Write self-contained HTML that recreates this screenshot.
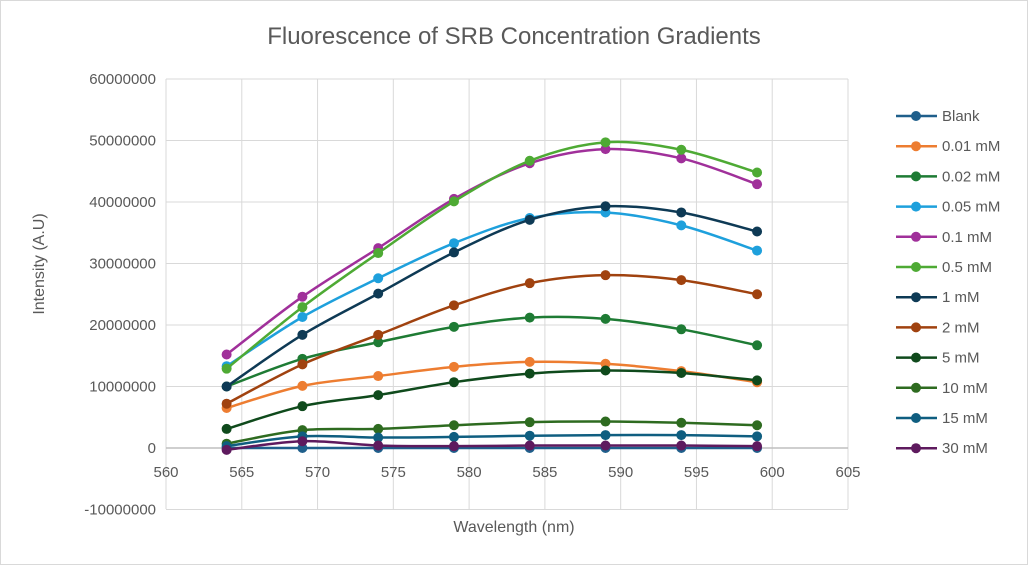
<!DOCTYPE html>
<html><head><meta charset="utf-8"><style>
body{margin:0;background:#fff;width:1028px;height:565px;overflow:hidden;font-family:"Liberation Sans",sans-serif}
</style></head><body>
<svg id="chart" width="1028" height="565" xmlns="http://www.w3.org/2000/svg">
<rect x="0.5" y="0.5" width="1027" height="564" fill="#fff" stroke="#d9d9d9"/>
<text x="514" y="44" text-anchor="middle" font-size="24" fill="#595959">Fluorescence of SRB Concentration Gradients</text>
<g id="grid"></g><g id="series"></g><g id="legend"></g>
<text x="514" y="532" text-anchor="middle" font-size="16" fill="#595959">Wavelength (nm)</text>
<text transform="translate(44,264) rotate(-90)" text-anchor="middle" font-size="16" fill="#595959">Intensity (A.U)</text>
</svg>
<script>
const xTicks=[560,565,570,575,580,585,590,595,600,605];
const yTicks=[-10000000,0,10000000,20000000,30000000,40000000,50000000,60000000];
const wavelengths=[564,569,574,579,584,589,594,599];
const seriesNames=["Blank","0.01 mM","0.02 mM","0.05 mM","0.1 mM","0.5 mM","1 mM","2 mM","5 mM","10 mM","15 mM","30 mM"];
const seriesColors=["#1f5f8b","#ed7d31","#1e7b34","#1ea0dc","#a0309a","#4eaa34","#0e3a55","#a0420f","#0f4a1c","#2e6b20","#0f5e80","#5e1a5e"];
const sBlank=[0,0,0,0,0,0,0,0];
const s001=[6.5,10.1,11.7,13.2,14.0,13.7,12.5,10.7];
const s002=[10.0,14.5,17.2,19.7,21.2,21.0,19.3,16.7];
const s005=[13.3,21.3,27.6,33.3,37.4,38.3,36.2,32.1];
const s01=[15.2,24.6,32.5,40.5,46.3,48.6,47.1,42.9];
const s05=[12.9,22.9,31.7,40.1,46.7,49.7,48.5,44.8];
const s1=[10.0,18.4,25.1,31.8,37.1,39.3,38.3,35.2];
const s2=[7.2,13.6,18.4,23.2,26.8,28.1,27.3,25.0];
const s5=[3.1,6.8,8.6,10.7,12.1,12.6,12.2,11.0];
const s10=[0.7,2.9,3.1,3.7,4.2,4.3,4.1,3.7];
const s15=[0.3,1.9,1.7,1.8,2.0,2.1,2.1,1.9];
const s30=[-0.3,1.1,0.4,0.3,0.4,0.4,0.4,0.3];
const allSeries=[sBlank,s001,s002,s005,s01,s05,s1,s2,s5,s10,s15,s30];
const NS="http://www.w3.org/2000/svg";
const X=v=>166+(v-560)*(848-166)/45;
const Y=v=>448-v*(448-79)/60000000;
function mk(t,a,p){const e=document.createElementNS(NS,t);for(const k in a)e.setAttribute(k,a[k]);p.appendChild(e);return e;}
const grid=document.getElementById('grid');
xTicks.forEach(t=>{const l=mk('line',{x1:X(t),x2:X(t),y1:79,y2:509,stroke:'#d9d9d9'},grid);


const tx=mk('text',{x:X(t),y:477,'text-anchor':'middle','font-size':15,fill:'#595959'},grid);tx.textContent=t;

});
yTicks.forEach(t=>{const l=mk('line',{x1:166,x2:848,y1:Y(t),y2:Y(t),stroke:t===0?'#bfbfbf':'#d9d9d9','stroke-width':t===0?1.5:1},grid);


const tx=mk('text',{x:156,y:Y(t)+5,'text-anchor':'end','font-size':15,fill:'#595959'},grid);tx.textContent=t;

});
function smooth(p){let d=`M${p[0][0]},${p[0][1]}`;for(let i=0;i<p.length-1;i++){const p0=p[i-1]||p[i],p1=p[i],p2=p[i+1],p3=p[i+2]||p2;const t=0.5/3;
d+=`C${p1[0]+(p2[0]-p0[0])*t},${p1[1]+(p2[1]-p0[1])*t} ${p2[0]-(p3[0]-p1[0])*t},${p2[1]-(p3[1]-p1[1])*t} ${p2[0]},${p2[1]}`;}return d;}
const sg=document.getElementById('series');
allSeries.forEach((s,i)=>{const g=mk('g',{},sg);


const pts=s.map((v,j)=>[X(wavelengths[j]),Y(v*1e6)]);
mk('path',{d:smooth(pts),fill:'none',stroke:seriesColors[i],'stroke-width':2.5},g);
pts.forEach(p=>{const c=mk('circle',{cx:p[0],cy:p[1],r:5,fill:seriesColors[i]},g);

});});
const lg=document.getElementById('legend');
seriesNames.forEach((n,i)=>{const y=116+i*30.2;const g=mk('g',{},lg);


mk('line',{x1:896,x2:937,y1:y,y2:y,stroke:seriesColors[i],'stroke-width':2.5},g);
mk('circle',{cx:916,cy:y,r:5,fill:seriesColors[i]},g);
const t=mk('text',{x:942,y:y+5,'font-size':15,fill:'#595959'},g);t.textContent=n;});
</script>
</body></html>
